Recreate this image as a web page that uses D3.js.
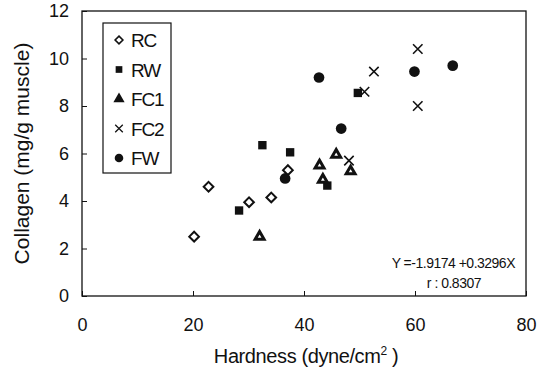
<!DOCTYPE html>
<html>
<head>
<meta charset="utf-8">
<script src="https://cdn.jsdelivr.net/npm/d3@7"></script>
<style>
  body { margin: 0; background: #fff; }
  text { font-family: "Liberation Sans", Arial, sans-serif; fill: #111; }
</style>
</head>
<body>
<div id="chart"></div>
<script>
// data: [hardness, collagen]
const seriesNames = ["RC", "RW", "FC1", "FC2", "FW"];
const rcPoints = [[20.2, 2.5], [22.8, 4.6], [30.1, 3.95], [34.1, 4.15], [37.1, 5.3]];
const rwPoints = [[28.3, 3.6], [32.5, 6.35], [37.5, 6.05], [44.2, 4.65], [49.7, 8.55]];
const fc1Points = [[32.0, 2.5], [42.8, 5.5], [43.4, 4.9], [45.8, 5.95], [48.4, 5.25]];
const fc2Points = [[60.5, 10.4], [52.6, 9.45], [50.9, 8.6], [60.5, 8.0], [48.1, 5.7]];
const fwPoints = [[42.7, 9.2], [59.9, 9.45], [66.8, 9.7], [46.7, 7.05], [36.6, 4.95]];
const xTicks = [0, 20, 40, 60, 80];
const yTicks = [0, 2, 4, 6, 8, 10, 12];
const equationText = "Y =-1.9174 +0.3296X";
const rText = "r : 0.8307";

const width = 544, height = 378;
const margin = { left: 82, right: 18, top: 11, bottom: 82 };

const svg = d3.select("#chart").append("svg")
  .attr("width", width).attr("height", height);

const x = d3.scaleLinear().domain([0, 80]).range([margin.left, width - margin.right]);
const y = d3.scaleLinear().domain([0, 12]).range([height - margin.bottom, margin.top]);

// 外框
svg.append("rect")
  .attr("x", x(0)).attr("y", y(12))
  .attr("width", x(80) - x(0)).attr("height", y(0) - y(12))
  .attr("fill", "none").attr("stroke", "#111").attr("stroke-width", 1.3);

// 坐标轴（刻度朝内）
const xAxis = svg.append("g")
  .attr("transform", `translate(0,${y(0)})`)
  .call(d3.axisBottom(x).tickValues(xTicks).tickSizeInner(-5).tickSizeOuter(0).tickPadding(22));
const yAxis = svg.append("g")
  .attr("transform", `translate(${x(0)},0)`)
  .call(d3.axisLeft(y).tickValues(yTicks).tickSizeInner(-5).tickSizeOuter(0).tickPadding(13));
[xAxis, yAxis].forEach((g) => {
  g.select(".domain").remove();
  g.selectAll(".tick line").attr("stroke", "#111");
  g.selectAll(".tick text")
    .style("font-family", "'Liberation Sans', Arial, sans-serif")
    .style("font-size", "18px").attr("fill", "#111");
});

// 轴标题
svg.append("text")
  .attr("x", (x(0) + x(80)) / 2 + 2).attr("y", 363)
  .attr("text-anchor", "middle").style("font-size", "20px").style("letter-spacing", "-0.4px")
  .html('Hardness (dyne/cm<tspan dy="-8" font-size="12">2</tspan><tspan dy="8"> )</tspan>');
svg.append("text")
  .attr("transform", `translate(29,${(y(0) + y(12)) / 2}) rotate(-90)`)
  .attr("text-anchor", "middle").style("font-size", "21px")
  .text("Collagen (mg/g muscle)");

// 符号
const symbols = {
  RC: d3.symbol().type(d3.symbolDiamond2).size(60),
  RW: d3.symbol().type(d3.symbolSquare).size(70),
  FC1: d3.symbol().type(d3.symbolTriangle).size(34),
  FC2: d3.symbol().type(d3.symbolTimes).size(60),
  FW: d3.symbol().type(d3.symbolCircle).size(90)
};
function styleMark(sel, name) {
  sel.attr("d", symbols[name]());
  if (name === "RC") sel.attr("fill", "#fff").attr("stroke", "#111").attr("stroke-width", 2);
  else if (name === "FC1") sel.attr("fill", "#fff").attr("stroke", "#111").attr("stroke-width", 3).attr("stroke-linejoin", "miter");
  else if (name === "FC2") sel.attr("fill", "none").attr("stroke", "#111").attr("stroke-width", 1.6);
  else sel.attr("fill", "#111").attr("stroke", "none");
}

const allSeries = [rcPoints, rwPoints, fc1Points, fc2Points, fwPoints];
allSeries.forEach((pts, i) => {
  const name = seriesNames[i];
  svg.append("g").selectAll("path").data(pts).join("path")
    .attr("transform", (d) => `translate(${x(d[0])},${y(d[1])})`)
    .call(styleMark, name);
});

// 图例
const legend = svg.append("g").attr("transform", "translate(103,23)");
legend.append("rect")
  .attr("width", 68).attr("height", 150)
  .attr("fill", "#fff").attr("stroke", "#111").attr("stroke-width", 1.2);
seriesNames.forEach((name, i) => {
  const row = legend.append("g").attr("transform", `translate(16,${17 + i * 29.5})`);
  const m = row.append("path");
  styleMark(m, name);
  if (name === "FC1") m.attr("fill", "#111");
  m.attr("transform", "scale(0.8)");
  row.append("text").attr("x", 12).attr("y", 7)
    .style("font-size", "19px").style("letter-spacing", "-1.2px").text(name);
});

// 回归方程
svg.append("text").attr("x", 515).attr("y", 268)
  .attr("text-anchor", "end").style("font-size", "14px").style("letter-spacing", "-0.5px")
  .text(equationText);
svg.append("text").attr("x", 481).attr("y", 288)
  .attr("text-anchor", "end").style("font-size", "14px").style("letter-spacing", "-0.5px")
  .text(rText);
</script>
</body>
</html>
